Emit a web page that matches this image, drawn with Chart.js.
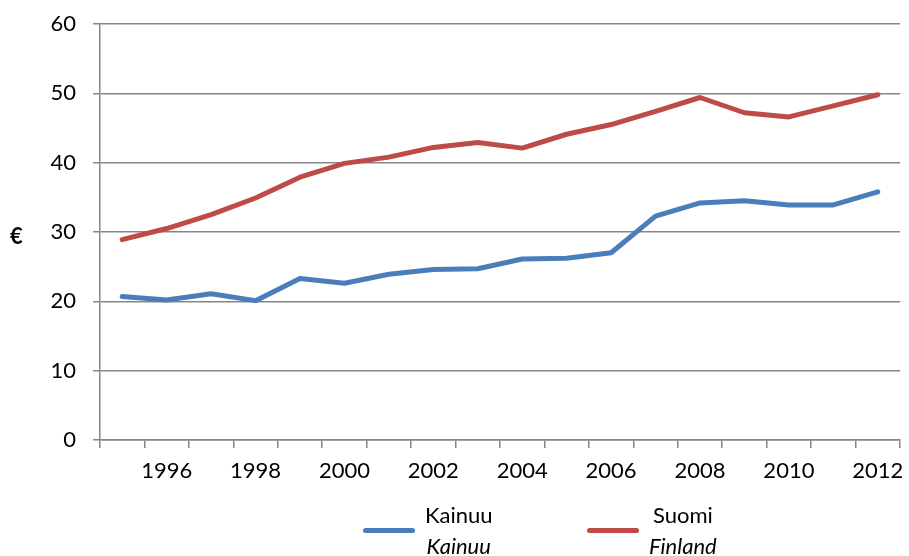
<!DOCTYPE html>
<html>
<head>
<meta charset="utf-8">
<script src="https://cdn.jsdelivr.net/npm/chart.js@4/dist/chart.umd.min.js"></script>
<style>
  html, body { margin: 0; padding: 0; background: #fff; }
  #wrap { position: relative; width: 909px; height: 556px; overflow: hidden; font-family: Lato, "Open Sans", sans-serif; color: #000; }
  #c { position: absolute; left: 0; top: 0; }
  .ytitle { position: absolute; left: 10px; top: 222px; font-size: 22px; font-weight: bold; }
  .leg { position: absolute; top: 499px; display: flex; align-items: center; font-size: 22px; }
  .sw { width: 52px; height: 5px; border-radius: 3px; margin-right: 10px; }
  .lab { text-align: center; line-height: 31px; }
  .lab i { font-style: italic; }
</style>
</head>
<body>
<div id="wrap">
  <canvas id="c" width="909" height="556"></canvas>
  <div class="ytitle">€</div>
  <div class="leg" style="left:363px;"><div class="sw" style="background:#4A7EBB"></div><div class="lab">Kainuu<br><i>Kainuu</i></div></div>
  <div class="leg" style="left:587px;"><div class="sw" style="background:#BE4B48"></div><div class="lab">Suomi<br><i>Finland</i></div></div>
</div>
<script>
const years = ['1995','1996','1997','1998','1999','2000','2001','2002','2003','2004','2005','2006','2007','2008','2009','2010','2011','2012'];
const kainuu = [20.7, 20.2, 21.1, 20.1, 23.3, 22.6, 23.9, 24.6, 24.7, 26.1, 26.2, 27.0, 32.3, 34.2, 34.5, 33.9, 33.9, 35.8];
const suomi  = [28.9, 30.5, 32.5, 34.9, 37.9, 39.9, 40.8, 42.2, 42.9, 42.1, 44.1, 45.5, 47.4, 49.4, 47.2, 46.6, 48.2, 49.8];
const yTicks = [0, 10, 20, 30, 40, 50, 60];

const FONT = { family: 'Lato, "Open Sans", sans-serif', size: 22 };
new Chart(document.getElementById('c'), {
  type: 'line',
  data: {
    labels: years,
    datasets: [
      { label: 'Kainuu', data: kainuu, borderColor: '#4A7EBB', backgroundColor: '#4A7EBB', borderWidth: 5, pointRadius: 0, tension: 0, borderCapStyle: 'round', borderJoinStyle: 'round' },
      { label: 'Suomi', data: suomi, borderColor: '#BE4B48', backgroundColor: '#BE4B48', borderWidth: 5, pointRadius: 0, tension: 0, borderCapStyle: 'round', borderJoinStyle: 'round' }
    ]
  },
  options: {
    responsive: false,
    animation: false,
    layout: { padding: { left: 0, right: 9, top: 24, bottom: 76 } },
    plugins: { legend: { display: false }, tooltip: { enabled: false } },
    scales: {
      x: {
        offset: true,
        grid: { offset: true, drawOnChartArea: false, drawTicks: true, tickLength: 8, color: '#868686', lineWidth: 1.5 },
        border: { color: '#868686', width: 1.5 },
        ticks: {
          autoSkip: false, maxRotation: 0, minRotation: 0, padding: 10, color: '#000', font: FONT,
          callback: function(v, i) { return (i % 2 === 1) ? years[i] : ''; }
        },
        afterFit: function(s) { s.height = 40; s.paddingLeft = 0; s.paddingRight = 0; }
      },
      y: {
        min: yTicks[0], max: yTicks[yTicks.length - 1],
        grid: { color: '#868686', lineWidth: 1.5, drawTicks: true, tickLength: 7 },
        border: { color: '#868686', width: 1.5 },
        ticks: { stepSize: 10, padding: 17, color: '#000', font: FONT },
        afterFit: function(s) { s.width = 100; s.paddingTop = 0; s.paddingBottom = 0; }
      }
    }
  }
});
</script>
</body>
</html>
